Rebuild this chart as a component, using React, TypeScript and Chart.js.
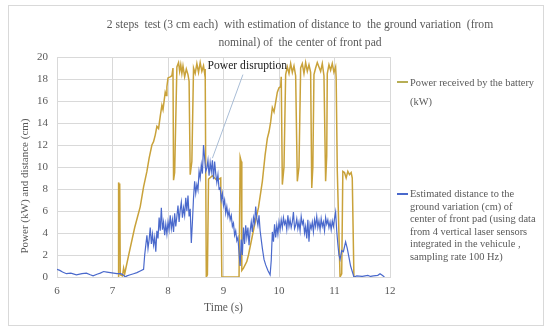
import React, { useEffect, useRef } from "react";
import { Chart, registerables } from "chart.js";

Chart.register(...registerables);

// ---- data ----
const powerTime = [
  7.1, 7.11, 7.12, 7.13, 7.14, 7.18, 7.2, 7.22, 7.3, 7.4, 7.5, 7.56, 7.62, 7.66, 7.71, 7.74, 7.77, 7.8, 7.83, 7.86,
  7.89, 7.91, 7.95, 7.97, 7.98, 8.0, 8.04, 8.07, 8.09, 8.1, 8.12, 8.16, 8.19, 8.21, 8.23, 8.25, 8.27, 8.3, 8.33, 8.36,
  8.38, 8.4, 8.43, 8.46, 8.49, 8.52, 8.55, 8.58, 8.61, 8.64, 8.66, 8.67, 8.69, 8.71, 8.73, 8.8, 8.88, 8.95, 8.97, 9.28,
  9.3, 9.32, 9.33, 9.36, 9.42, 9.45, 9.55, 9.63, 9.7, 9.75, 9.79, 9.82, 9.85, 9.88, 9.91, 9.94, 9.97, 10.0, 10.03, 10.04,
  10.06, 10.09, 10.12, 10.15, 10.18, 10.21, 10.24, 10.27, 10.3, 10.33, 10.36, 10.39, 10.42, 10.45, 10.48, 10.51, 10.54, 10.57, 10.59, 10.61,
  10.63, 10.66, 10.69, 10.72, 10.75, 10.78, 10.81, 10.84, 10.86, 10.87, 10.9, 10.93, 10.96, 10.99, 11.02, 11.03, 11.05, 11.1, 11.13, 11.15,
  11.18, 11.21, 11.24, 11.27, 11.3, 11.32, 11.35, 11.37,
];
const powerKW = [
  0, 8.6, 8.3, 8.5, 0.2, 0.1, 0.8, 0.3, 2.2, 4.5, 6.4, 8.2, 9.6, 10.8, 12.0, 12.3, 12.9, 13.7, 13.5, 14.6,
  15.6, 15.2, 16.8, 16.5, 17.3, 18.1, 18.2, 18.3, 19.0, 8.8, 9.5, 19.1, 19.5, 18.7, 19.3, 18.5, 19.2, 18.2, 18.9, 18.4,
  17.8, 9.3, 10.5, 19.0, 18.5, 19.4, 18.6, 19.5, 18.7, 19.2, 18.5, 18.9, 0, 0.2, 8.9, 9.2, 8.8, 9.0, 0, 0,
  10.9, 10.5, 0.6, 0.8, 1.4, 2.0, 4.5, 6.3, 8.7, 11.1, 12.6, 13.2, 14.1, 15.4, 15.0, 15.9, 16.8, 17.2, 17.3, 18.2,
  8.4, 10.0, 18.4, 19.1, 18.5, 19.4, 18.6, 19.2, 18.3, 8.7, 10.0, 19.0, 19.4, 18.5, 19.5, 18.7, 19.3, 18.6, 8.1, 10.0,
  18.4, 19.0, 19.5, 19.1, 18.7, 19.4, 18.3, 8.7, 11.0, 18.5, 19.3, 18.8, 19.4, 18.6, 19.1, 18.1, 9.7, 0, 0.3, 9.6,
  9.5, 9.0, 9.6, 9.3, 9.5, 9.0, 0, 0,
];

const distTime = [
  6.0, 6.05, 6.1, 6.17, 6.25, 6.35, 6.45, 6.53, 6.6, 6.65, 6.72, 6.78, 6.84, 6.9, 6.96, 7.02, 7.08, 7.15, 7.2, 7.23,
  7.26, 7.32, 7.38, 7.44, 7.5, 7.56, 7.58, 7.6, 7.62, 7.64, 7.66, 7.68, 7.7, 7.72, 7.74, 7.76, 7.78, 7.8, 7.82, 7.84,
  7.86, 7.88, 7.9, 7.92, 7.94, 7.96, 7.98, 8.0, 8.02, 8.04, 8.06, 8.08, 8.1, 8.12, 8.14, 8.16, 8.18, 8.2, 8.22, 8.24,
  8.26, 8.28, 8.3, 8.32, 8.34, 8.36, 8.38, 8.4, 8.42, 8.44, 8.46, 8.48, 8.5, 8.52, 8.54, 8.56, 8.58, 8.6, 8.62, 8.64,
  8.66, 8.68, 8.7, 8.72, 8.74, 8.76, 8.78, 8.8, 8.82, 8.84, 8.86, 8.88, 8.9, 8.92, 8.94, 8.96, 8.98, 9.0, 9.02, 9.04,
  9.06, 9.08, 9.1, 9.12, 9.14, 9.16, 9.18, 9.2, 9.22, 9.24, 9.26, 9.28, 9.3, 9.32, 9.34, 9.36, 9.38, 9.4, 9.42, 9.44,
  9.46, 9.48, 9.5, 9.52, 9.54, 9.56, 9.58, 9.6, 9.62, 9.64, 9.66, 9.68, 9.7, 9.73, 9.76, 9.8, 9.84, 9.86, 9.88, 9.9,
  9.92, 9.94, 9.96, 9.98, 10.0, 10.02, 10.04, 10.06, 10.08, 10.1, 10.12, 10.14, 10.16, 10.18, 10.2, 10.22, 10.24, 10.26, 10.28, 10.3,
  10.32, 10.34, 10.36, 10.38, 10.4, 10.42, 10.44, 10.46, 10.48, 10.5, 10.52, 10.54, 10.56, 10.58, 10.6, 10.62, 10.64, 10.66, 10.68, 10.7,
  10.72, 10.74, 10.76, 10.78, 10.8, 10.82, 10.84, 10.86, 10.88, 10.9, 10.92, 10.94, 10.96, 10.98, 11.0, 11.02, 11.04, 11.06, 11.08, 11.1,
  11.13, 11.16, 11.2, 11.23, 11.26, 11.29, 11.32, 11.35, 11.4, 11.5, 11.6, 11.65, 11.7, 11.78, 11.82, 11.86, 11.9,
];
const distCm = [
  0.7, 0.6, 0.45, 0.3, 0.35, 0.2, 0.3, 0.35, 0.2, 0.1, 0.25, 0.35, 0.5, 0.45, 0.4, 0.35, 0.3, 0.3, 0.15, 0.0,
  0.1, 0.2, 0.3, 0.4, 0.55, 0.7, 2.0, 2.9, 3.8, 2.6, 3.4, 4.5, 3.0, 3.9, 2.9, 3.6, 2.3, 4.2, 3.5, 5.4,
  4.2, 6.3, 4.3, 5.0, 3.8, 4.8, 3.9, 5.0, 4.3, 5.6, 4.4, 5.2, 4.1, 5.8, 4.6, 5.5, 6.5, 5.0, 6.1, 6.8,
  5.4, 6.3, 5.6, 7.2, 6.0, 7.4, 5.5, 6.2, 3.1, 5.0, 7.2, 8.7, 7.6, 8.4, 7.9, 9.6, 9.0, 10.2, 9.4, 12.0,
  10.8, 9.6, 9.9, 10.6, 9.2, 10.4, 9.6, 10.6, 8.9, 10.5, 9.4, 8.6, 9.3, 8.0, 8.1, 7.0, 7.6, 6.5, 7.0, 5.8,
  6.4, 5.5, 6.0, 5.2, 5.6, 4.6, 4.9, 3.8, 4.2, 3.3, 3.6, 2.2, 1.0, 3.4, 2.0, 4.5, 3.0, 4.7, 3.6, 4.5,
  2.9, 4.2, 5.0, 4.1, 5.4, 4.9, 6.4, 5.3, 4.7, 5.6, 4.2, 3.4, 2.6, 1.6, 1.1, 0.6, 0.2, 1.5, 4.1, 3.2,
  4.8, 3.6, 4.7, 3.9, 5.0, 4.3, 5.2, 4.5, 5.4, 4.8, 5.1, 4.3, 5.6, 4.6, 5.2, 4.5, 5.0, 5.9, 4.4, 4.7,
  5.3, 4.4, 5.0, 4.2, 5.5, 4.8, 5.1, 4.0, 4.6, 3.5, 5.2, 3.2, 4.8, 4.4, 5.0, 4.1, 5.2, 4.6, 5.5, 4.5,
  5.1, 4.3, 5.3, 4.6, 5.0, 4.2, 5.4, 4.8, 5.2, 4.5, 5.0, 4.3, 5.1, 4.6, 5.3, 5.9, 4.2, 3.0, 2.0, 1.6,
  2.4, 2.3, 3.2, 2.6, 1.8, 1.0, 0.5, 0.0, 0.1, 0.05, 0.15, 0.05, 0.1, 0.15, 0.3, 0.15, 0.0,
];

const xTicks = [6, 7, 8, 9, 10, 11, 12];
const yTicks = [0, 2, 4, 6, 8, 10, 12, 14, 16, 18, 20];

const titleLines = [
  "2 steps  test (3 cm each)  with estimation of distance to  the ground variation  (from",
  "nominal) of  the center of front pad",
];
const yAxisTitle = "Power (kW) and distance (cm)";
const xAxisTitle = "Time (s)";
const powerLegend = ["Power received by the battery", "(kW)"];
const distLegend = [
  "Estimated  distance to the",
  "ground variation (cm) of",
  "center of front pad (using data",
  "from 4 vertical laser sensors",
  "integrated in the vehicule ,",
  "sampling rate 100 Hz)",
];
const noteText = "Power disruption";
const noteTextAt = [9.43, 19.2];
const noteLineFrom = [9.35, 18.4];
const noteLineTo = [8.8, 10.8];

const FONT = '"Liberation Serif", "DejaVu Serif", serif';
const GOLD = "#C9A23A";
const BLUE = "#4A69CC";
const TEXT = "#595959";
const GRID = "#d9d9d9";

const notePlugin = {
  id: "notePlugin",
  afterDatasetsDraw(chart: any) {
    const { ctx, scales } = chart;
    const x = scales.x;
    const y = scales.y;
    ctx.save();
    ctx.strokeStyle = "#a9bdd6";
    ctx.lineWidth = 1;
    ctx.beginPath();
    ctx.moveTo(x.getPixelForValue(noteLineFrom[0]), y.getPixelForValue(noteLineFrom[1]));
    ctx.lineTo(x.getPixelForValue(noteLineTo[0]), y.getPixelForValue(noteLineTo[1]));
    ctx.stroke();
    ctx.font = `11.6px ${FONT}`;
    ctx.fillStyle = "#1a1a1a";
    ctx.textAlign = "center";
    ctx.textBaseline = "middle";
    ctx.fillText(noteText, x.getPixelForValue(noteTextAt[0]), y.getPixelForValue(noteTextAt[1]));
    ctx.restore();
  },
  afterDraw(chart: any) {
    const { ctx } = chart;
    ctx.save();
    ctx.translate(25, 186);
    ctx.rotate(-Math.PI / 2);
    ctx.font = `11px ${FONT}`;
    ctx.fillStyle = TEXT;
    ctx.textAlign = "center";
    ctx.textBaseline = "middle";
    ctx.fillText(yAxisTitle, 0, 0);
    ctx.restore();
  },
};

export default function App() {
  const ref = useRef<HTMLCanvasElement | null>(null);

  useEffect(() => {
    if (!ref.current) return;
    const chart = new Chart(ref.current, {
      type: "line",
      data: {
        datasets: [
          {
            label: powerLegend.join(" "),
            data: powerTime.map((t, i) => ({ x: t, y: powerKW[i] })),
            borderColor: GOLD,
            borderWidth: 1.5,
            pointRadius: 0,
            tension: 0,
            order: 2,
          },
          {
            label: distLegend.join(" "),
            data: distTime.map((t, i) => ({ x: t, y: distCm[i] })),
            borderColor: BLUE,
            borderWidth: 1.2,
            pointRadius: 0,
            tension: 0,
            order: 1,
          },
        ],
      },
      options: {
        animation: false,
        responsive: false,
        maintainAspectRatio: false,
        layout: { padding: { left: 0, right: 160, top: 57, bottom: 0 } },
        plugins: {
          legend: { display: false },
          title: { display: false },
          tooltip: { enabled: false },
        },
        scales: {
          x: {
            type: "linear",
            min: xTicks[0],
            max: xTicks[xTicks.length - 1],
            afterBuildTicks: (s: any) => {
              s.ticks = xTicks.map((v) => ({ value: v }));
            },
            afterFit: (s: any) => {
              s.height = 56;
            },
            grid: { color: GRID, drawTicks: false },
            border: { color: GRID },
            ticks: { color: TEXT, padding: 8, font: { family: FONT, size: 11 } },
            title: {
              display: true,
              text: xAxisTitle,
              color: TEXT,
              font: { family: FONT, size: 11.5 },
              padding: { top: 0, bottom: 18 },
            },
          },
          y: {
            min: yTicks[0],
            max: yTicks[yTicks.length - 1],
            afterBuildTicks: (s: any) => {
              s.ticks = yTicks.map((v) => ({ value: v }));
            },
            afterFit: (s: any) => {
              s.width = 57;
            },
            grid: { color: GRID, drawTicks: false },
            border: { color: GRID },
            ticks: { color: TEXT, padding: 9, font: { family: FONT, size: 11 } },
          },
        },
      },
      plugins: [notePlugin],
    } as any);
    return () => chart.destroy();
  }, []);

  const legendText: React.CSSProperties = {
    position: "absolute",
    left: 410,
    fontFamily: FONT,
    fontSize: 10.4,
    fontWeight: 400,
    color: TEXT,
    whiteSpace: "nowrap",
  };

  return (
    <div style={{ position: "fixed", left: 0, top: 0, width: 550, height: 333, background: "#fff", overflow: "hidden" }}>
      <div
        style={{
          position: "absolute",
          left: 8,
          top: 5,
          width: 536,
          height: 321,
          border: `1px solid ${GRID}`,
          boxSizing: "border-box",
        }}
      />
      <canvas ref={ref} width={550} height={333} style={{ position: "absolute", left: 0, top: 0 }} />
      <div
        style={{
          position: "absolute",
          left: 100,
          width: 400,
          top: 16,
          textAlign: "center",
          fontFamily: FONT,
          fontSize: 11.6,
          fontWeight: 400,
          lineHeight: "18px",
          color: TEXT,
          whiteSpace: "pre",
        }}
      >
        {titleLines.map((l, i) => (
          <div key={i}>{l}</div>
        ))}
      </div>
      <div style={{ position: "absolute", left: 397, top: 81, width: 11, height: 2, background: "#B7AE55" }} />
      <div style={{ ...legendText, top: 73, lineHeight: "19px" }}>
        {powerLegend.map((l, i) => (
          <div key={i}>{l}</div>
        ))}
      </div>
      <div style={{ position: "absolute", left: 397, top: 193, width: 11, height: 2, background: BLUE }} />
      <div style={{ ...legendText, top: 188, lineHeight: "12.6px" }}>
        {distLegend.map((l, i) => (
          <div key={i}>{l}</div>
        ))}
      </div>
    </div>
  );
}
